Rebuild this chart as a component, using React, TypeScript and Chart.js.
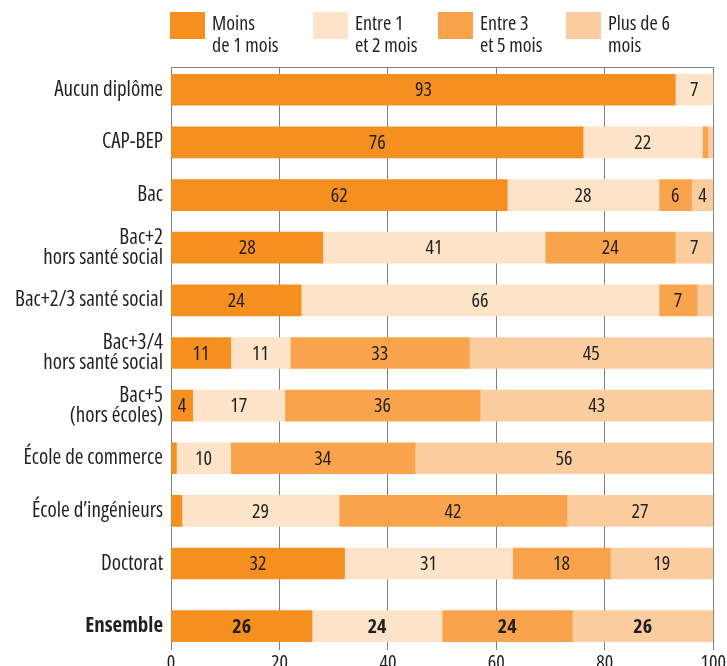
import { useEffect, useRef } from "react";
import { Chart, registerables } from "chart.js";

Chart.register(...registerables);

// Diploma categories (multi-line labels as arrays)
const categories: string[][] = [
  ["Aucun diplôme"],
  ["CAP-BEP"],
  ["Bac"],
  ["Bac+2", "hors santé social"],
  ["Bac+2/3 santé social"],
  ["Bac+3/4", "hors santé social"],
  ["Bac+5", "(hors écoles)"],
  ["École de commerce"],
  ["École d’ingénieurs"],
  ["Doctorat"],
  ["Ensemble"],
];

// Share (%) of each duration, per category
const lessThan1Month = [93, 76, 62, 28, 24, 11, 4, 1, 2, 32, 26];
const between1And2Months = [7, 22, 28, 41, 66, 11, 17, 10, 29, 31, 24];
const between3And5Months = [0, 1, 6, 24, 7, 33, 36, 34, 42, 18, 24];
const over6Months = [0, 1, 4, 7, 3, 45, 43, 56, 27, 19, 26];

const seriesLabels: string[][] = [
  ["Moins", "de 1 mois"],
  ["Entre 1", "et 2 mois"],
  ["Entre 3", "et 5 mois"],
  ["Plus de 6", "mois"],
];
const seriesColors = ["#F58F1F", "#FDE4C8", "#F9A44C", "#FBCC9E"];

const xTicks = [0, 20, 40, 60, 80, 100];

const FAMILY = "'Open Sans', 'DejaVu Sans Condensed', sans-serif";
const NARROW = "condensed";
const TEXT = "#231F20";
const GRID = "#7F7F7F";
const TOTAL_ROW_GAP = 0.19; // extra space before the "Ensemble" row
const LEGEND_X = [170, 313, 438, 566];

function rowPosition(i: number) {
  return i + (i === categories.length - 1 ? TOTAL_ROW_GAP : 0);
}

const topLinePlugin = {
  id: "topLine",
  beforeDatasetsDraw(chart: any) {
    const { ctx, chartArea } = chart;
    ctx.save();
    ctx.strokeStyle = GRID;
    ctx.lineWidth = 1;
    ctx.beginPath();
    ctx.moveTo(chartArea.left, Math.round(chartArea.top) + 0.5);
    ctx.lineTo(chartArea.right, Math.round(chartArea.top) + 0.5);
    ctx.stroke();
    ctx.restore();
  },
};

const valueLabelPlugin = {
  id: "valueLabels",
  afterDatasetsDraw(chart: any) {
    const { ctx } = chart;
    ctx.save();
    ctx.fillStyle = TEXT;
    ctx.textAlign = "center";
    ctx.textBaseline = "middle";
    chart.data.datasets.forEach((ds: any, di: number) => {
      const meta = chart.getDatasetMeta(di);
      meta.data.forEach((bar: any, j: number) => {
        const v = ds.data[j].x;
        if (v < 4) return;
        const right = Math.min(bar.x, chart.chartArea.right);
        const cx = (right + bar.base) / 2;
        const bold = j === categories.length - 1;
        ctx.font = `${bold ? "bold " : ""}${NARROW} 20px ${FAMILY}`;
        ctx.fillText(String(v), cx, bar.y + 1);
      });
    });
    ctx.restore();
  },
};

const legendPlugin = {
  id: "topLegend",
  afterDraw(chart: any) {
    const { ctx } = chart;
    ctx.save();
    seriesLabels.forEach((lines, i) => {
      const x = LEGEND_X[i];
      ctx.fillStyle = seriesColors[i];
      ctx.fillRect(x, 12, 35, 27);
      ctx.fillStyle = TEXT;
      ctx.font = `${NARROW} 20px ${FAMILY}`;
      ctx.textAlign = "left";
      ctx.textBaseline = "alphabetic";
      lines.forEach((line, k) => {
        ctx.fillText(line, x + 42, 30 + k * 21.5);
      });
    });
    ctx.restore();
  },
};

export default function App() {
  const canvasRef = useRef<HTMLCanvasElement | null>(null);

  useEffect(() => {
    document.body.style.margin = "0";
    const canvas = canvasRef.current;
    if (!canvas) return;
    Chart.defaults.font.family = FAMILY;
    Chart.defaults.color = TEXT;

    const series = [lessThan1Month, between1And2Months, between3And5Months, over6Months];
    const chart = new Chart(canvas, {
      type: "bar",
      data: {
        datasets: series.map((values, si) => ({
          label: seriesLabels[si].join(" "),
          data: values.map((v, i) => ({ x: v, y: rowPosition(i) })),
          backgroundColor: seriesColors[si],
          borderWidth: 0,
          barThickness: 31,
          grouped: false,
          clip: 0,
        })),
      },
      options: {
        indexAxis: "y",
        animation: false,
        responsive: true,
        maintainAspectRatio: false,
        layout: { padding: { top: 67, right: 12, bottom: 0, left: 0 } },
        plugins: {
          legend: { display: false },
          tooltip: { enabled: false },
        },
        scales: {
          x: {
            type: "linear",
            stacked: true,
            min: 0,
            max: 100,
            afterBuildTicks: (scale: any) => {
              scale.ticks = xTicks.map((v) => ({ value: v }));
            },
            afterFit: (scale: any) => {
              scale.height = 23;
            },
            grid: {
              color: GRID,
              lineWidth: 1,
              drawTicks: true,
              tickLength: 7,
            },
            border: { display: false },
            ticks: {
              padding: 1,
              color: TEXT,
              font: { size: 20, weight: NARROW },
            },
          },
          y: {
            type: "linear",
            reverse: true,
            offset: false,
            min: -0.433,
            max: 10.51,
            afterBuildTicks: (scale: any) => {
              scale.ticks = categories.map((_, i) => ({ value: rowPosition(i) }));
            },
            afterFit: (scale: any) => {
              scale.width = 171;
            },
            grid: { display: false, drawTicks: false },
            border: { display: false },
            ticks: {
              autoSkip: false,
              padding: 8,
              color: TEXT,
              callback: (_v: any, index: number) => categories[index],
              font: (ctx: any) => ({
                size: 21,
                lineHeight: 0.95,
                weight: ctx.index === categories.length - 1 ? `bold ${NARROW}` : NARROW,
              }),
            },
          },
        },
      },
      plugins: [topLinePlugin, valueLabelPlugin, legendPlugin],
    } as any);

    return () => chart.destroy();
  }, []);

  return (
    <div style={{ width: 727, height: 666, position: "relative" }}>
      <canvas ref={canvasRef} />
    </div>
  );
}
